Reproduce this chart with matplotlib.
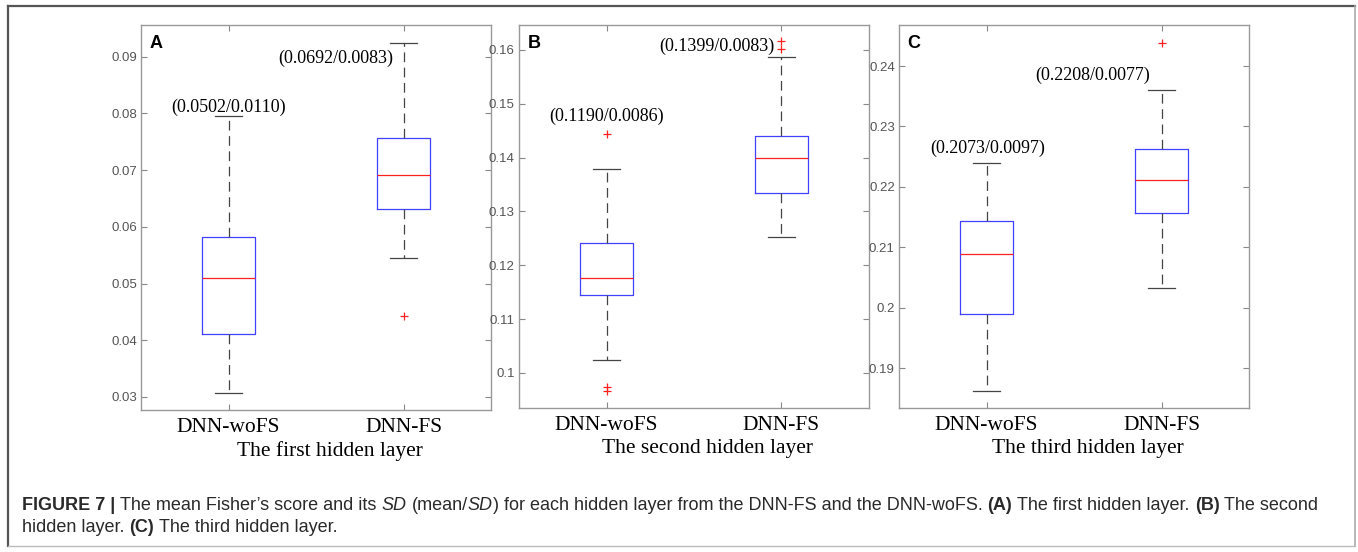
import matplotlib
matplotlib.use("Agg")
import matplotlib.pyplot as plt
import numpy as np
from matplotlib.ticker import FuncFormatter
from matplotlib.lines import Line2D

groups = ["DNN-woFS", "DNN-FS"]
layers = ["The first hidden layer", "The second hidden layer", "The third hidden layer"]
tags = ["A", "B", "C"]

# box summaries: low whisker, q1, median, q3, high whisker
first_wofs = [0.0307, 0.0411, 0.0510, 0.0582, 0.0795]
first_fs = [0.0545, 0.0631, 0.0691, 0.0756, 0.0925]
second_wofs = [0.1024, 0.1145, 0.1177, 0.1242, 0.1379]
second_fs = [0.1252, 0.1335, 0.1400, 0.1440, 0.1587]
third_wofs = [0.1862, 0.1990, 0.2089, 0.2143, 0.2239]
third_fs = [0.2033, 0.2156, 0.2211, 0.2262, 0.2361]

first_out = [[], [0.0442]]
second_out = [[0.1444, 0.0974, 0.0967], [0.1617, 0.1602]]
third_out = [[], [0.2438]]

mean_wofs = [0.0502, 0.1190, 0.2073]
sd_wofs = [0.0110, 0.0086, 0.0097]
mean_fs = [0.0692, 0.1399, 0.2208]
sd_fs = [0.0083, 0.0083, 0.0077]

ylims = [(0.0277, 0.0956), (0.0935, 0.1646), (0.1834, 0.2468)]
yticks = [np.arange(0.03, 0.0905, 0.01), np.arange(0.10, 0.1605, 0.01), np.arange(0.19, 0.2405, 0.01)]

plt.rcParams["lines.scale_dashes"] = False

W, H = 1358, 552
fig = plt.figure(figsize=(W / 100, H / 100), dpi=100)

# axes boxes in pixels: left, top, right, bottom
boxes = [(141, 25, 491, 410), (519, 25, 869, 408), (899, 25, 1249, 408)]
# where the (mean/SD) labels go: (x, y, ha) for woFS then FS
label_pos = [
    [(1.0, 0.0811, "center"), (1.94, 0.0898, "right")],
    [(1.0, 0.1476, "center"), (1.962, 0.1606, "right")],
    [(1.007, 0.2264, "center"), (1.933, 0.2385, "right")],
]

summaries = [(first_wofs, first_fs), (second_wofs, second_fs), (third_wofs, third_fs)]
outliers = [first_out, second_out, third_out]

serif = "Liberation Serif"
narrow = ["Liberation Sans Narrow", "Liberation Sans"]

for i in range(3):
    l, t, r, b = boxes[i]
    ax = fig.add_axes([l / W, 1 - b / H, (r - l) / W, (b - t) / H])
    stats = []
    for s, fl in zip(summaries[i], outliers[i]):
        stats.append(dict(whislo=s[0], q1=s[1], med=s[2], q3=s[3], whishi=s[4], fliers=fl))
    ax.bxp(stats, positions=[1, 2], widths=0.3, capwidths=0.15, showfliers=True,
           boxprops=dict(color="#4040ff", lw=0.9),
           medianprops=dict(color="#ff2020", lw=0.9),
           whiskerprops=dict(color="#444444", lw=0.9, linestyle=(0, (7, 4))),
           capprops=dict(color="#444444", lw=0.9),
           flierprops=dict(marker="+", markeredgecolor="#ff2020", markersize=6,
                           markeredgewidth=0.9, linestyle="none"))
    ax.set_xlim(0.5, 2.5)
    ax.set_ylim(*ylims[i])
    ax.set_yticks(yticks[i])
    ax.yaxis.set_major_formatter(FuncFormatter(lambda v, p: "%g" % round(v, 3)))
    ax.set_xticks([1, 2])
    ax.set_xticklabels(groups, fontsize=15.5, family=serif)
    for lab in ax.get_yticklabels():
        lab.set_family(narrow)
        lab.set_fontsize(9.5)
        lab.set_color("#555555")
    ax.tick_params(axis="both", direction="in", length=4, width=0.8, color="#888888",
                   top=True, right=True)
    ax.tick_params(axis="x", pad=6)
    ax.tick_params(axis="y", pad=3)
    for sp in ax.spines.values():
        sp.set_color("#999999")
        sp.set_linewidth(1.0)
    ax.set_xlabel(layers[i], fontsize=15.5, family=serif)
    ax.xaxis.set_label_coords(0.54, -0.082)
    ax.text(0.025, 0.953, tags[i], transform=ax.transAxes, fontsize=13, fontweight="bold",
            family="Liberation Sans", va="center", ha="left")
    texts = ["(%.4f/%.4f)" % (mean_wofs[i], sd_wofs[i]), "(%.4f/%.4f)" % (mean_fs[i], sd_fs[i])]
    for (x, y, ha), s in zip(label_pos[i], texts):
        ax.text(x, y, s, fontsize=13, family=serif, ha=ha, va="center")

# frame around the figure
def px_line(xs, ys, color, lw):
    fig.add_artist(Line2D([x / W for x in xs], [1 - y / H for y in ys],
                          color=color, lw=lw, transform=fig.transFigure))

px_line([8, 1355], [6, 6], "#555555", 1.6)
px_line([8, 8], [6, 546], "#555555", 1.6)
px_line([1355, 1355], [6, 546], "#aaaaaa", 1.2)
px_line([8, 1355], [546, 546], "#bbbbbb", 1.0)

# caption with mixed styles
line1 = [("FIGURE 7 |", "bold", "normal", False),
         ("The mean Fisher\u2019s score and its", "normal", "normal", True),
         ("SD", "normal", "italic", True),
         ("(mean/", "normal", "normal", True),
         ("SD", "normal", "italic", False),
         (") for each hidden layer from the DNN-FS and the DNN-woFS.", "normal", "normal", False),
         ("(A)", "bold", "normal", True),
         ("The first hidden layer.", "normal", "normal", True),
         ("(B)", "bold", "normal", True),
         ("The second", "normal", "normal", True)]
line2 = [("hidden layer.", "normal", "normal", False),
         ("(C)", "bold", "normal", True),
         ("The third hidden layer.", "normal", "normal", True)]

cap_size = 13.0
renderer = fig.canvas.get_renderer()
probe1 = fig.text(0, 0, "x x", fontsize=cap_size, family="Liberation Sans")
probe2 = fig.text(0, 0, "xx", fontsize=cap_size, family="Liberation Sans")
space = probe1.get_window_extent(renderer).width - probe2.get_window_extent(renderer).width
probe1.remove()
probe2.remove()

for runs, ypix in [(line1, 506), (line2, 528)]:
    x = 22
    for s, wt, st, gap in runs:
        if gap:
            x += space
        tx = fig.text(x / W, 1 - ypix / H, s, fontsize=cap_size, family="Liberation Sans",
                      fontweight=wt, fontstyle=st, color="#2a2a2a", va="center", ha="left")
        x += tx.get_window_extent(renderer).width

fig.savefig("out.png", dpi=100)
